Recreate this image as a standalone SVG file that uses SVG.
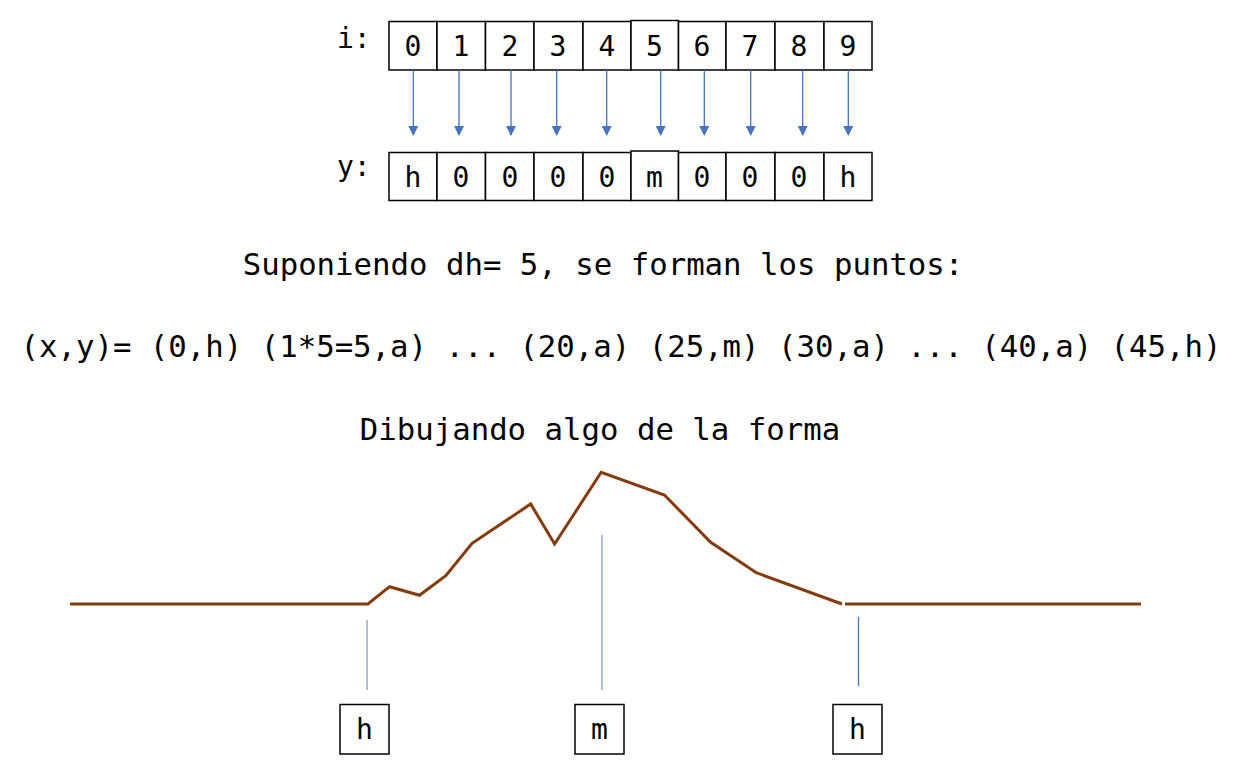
<svg xmlns="http://www.w3.org/2000/svg" width="1237" height="773" viewBox="0 0 1237 773">
<style>
.cell{fill:#fff;stroke:#000;stroke-width:1.5}
.ct{font-family:"DejaVu Sans Mono",monospace;font-size:28px;fill:#000;text-anchor:middle}
.lbl{font-family:"DejaVu Sans Mono",monospace;font-size:28px;fill:#000}
.big{font-family:"DejaVu Sans Mono",monospace;font-size:30.7px;fill:#000;text-anchor:middle}
.arr{stroke:#4472C4;stroke-width:1.3;fill:none}
.tick{stroke:#7F93B8;stroke-width:1.2;fill:none}
.mtn{stroke:#843C0C;stroke-width:3;fill:none;stroke-linejoin:miter}
</style>
<defs>
<marker id="ah" markerWidth="10" markerHeight="10" refX="9" refY="5" orient="auto" markerUnits="userSpaceOnUse">
<path d="M0,0 L10,5 L0,10 Z" fill="#4472C4"/>
</marker>
</defs>
<g id="label-i"><text class="lbl" x="337" y="48">i:</text></g>
<g id="label-y"><text class="lbl" x="337" y="176">y:</text></g>
<g id="row-i">
<rect class="cell" x="389" y="21.5" width="48" height="48.5"/><text class="ct" x="413" y="56">0</text>
<rect class="cell" x="437" y="21.5" width="48.5" height="48.5"/><text class="ct" x="461" y="56">1</text>
<rect class="cell" x="485.5" y="21.5" width="48.5" height="48.5"/><text class="ct" x="510" y="56">2</text>
<rect class="cell" x="534" y="21.5" width="49" height="48.5"/><text class="ct" x="558" y="56">3</text>
<rect class="cell" x="583" y="21.5" width="48" height="48.5"/><text class="ct" x="607" y="56">4</text>
<rect class="cell" x="631" y="20.5" width="47.5" height="49.5"/><text class="ct" x="654.5" y="56">5</text>
<rect class="cell" x="678.5" y="21.5" width="47.5" height="48.5"/><text class="ct" x="702" y="56">6</text>
<rect class="cell" x="726" y="21.5" width="49" height="48.5"/><text class="ct" x="750" y="56">7</text>
<rect class="cell" x="775" y="21.5" width="49" height="48.5"/><text class="ct" x="799" y="56">8</text>
<rect class="cell" x="824" y="21.5" width="48" height="48.5"/><text class="ct" x="848" y="56">9</text>
</g>
<g id="row-y">
<rect class="cell" x="389" y="152.5" width="48" height="48"/><text class="ct" x="413" y="187">h</text>
<rect class="cell" x="437" y="152.5" width="48.5" height="48"/><text class="ct" x="461" y="187">0</text>
<rect class="cell" x="485.5" y="152.5" width="48.5" height="48"/><text class="ct" x="510" y="187">0</text>
<rect class="cell" x="534" y="152.5" width="49" height="48"/><text class="ct" x="558" y="187">0</text>
<rect class="cell" x="583" y="152.5" width="48" height="48"/><text class="ct" x="607" y="187">0</text>
<rect class="cell" x="631" y="151" width="47.5" height="49.5"/><text class="ct" x="654.5" y="187">m</text>
<rect class="cell" x="678.5" y="152.5" width="47.5" height="48"/><text class="ct" x="702" y="187">0</text>
<rect class="cell" x="726" y="152.5" width="49" height="48"/><text class="ct" x="750" y="187">0</text>
<rect class="cell" x="775" y="152.5" width="49" height="48"/><text class="ct" x="799" y="187">0</text>
<rect class="cell" x="824" y="152.5" width="48" height="48"/><text class="ct" x="848" y="187">h</text>
</g>
<g id="connectors">
<line class="arr" x1="413.3" y1="70" x2="413.3" y2="135" marker-end="url(#ah)"/>
<line class="arr" x1="459" y1="70" x2="459" y2="135" marker-end="url(#ah)"/>
<line class="arr" x1="511" y1="70" x2="511" y2="135" marker-end="url(#ah)"/>
<line class="arr" x1="556.7" y1="70" x2="556.7" y2="135" marker-end="url(#ah)"/>
<line class="arr" x1="606.7" y1="70" x2="606.7" y2="135" marker-end="url(#ah)"/>
<line class="arr" x1="660.7" y1="70" x2="660.7" y2="135" marker-end="url(#ah)"/>
<line class="arr" x1="704.3" y1="70" x2="704.3" y2="135" marker-end="url(#ah)"/>
<line class="arr" x1="750.7" y1="70" x2="750.7" y2="135" marker-end="url(#ah)"/>
<line class="arr" x1="802.7" y1="70" x2="802.7" y2="135" marker-end="url(#ah)"/>
<line class="arr" x1="848.3" y1="70" x2="848.3" y2="135" marker-end="url(#ah)"/>
<line class="tick" x1="367" y1="620" x2="367" y2="690"/>
<line class="tick" x1="602" y1="535" x2="602" y2="690"/>
<line class="arr" x1="858.5" y1="617" x2="858.5" y2="686"/>
</g>
<g id="texts">
<text class="big" x="603" y="275">Suponiendo dh= 5, se forman los puntos:</text>
<text class="big" x="621" y="357">(x,y)= (0,h) (1*5=5,a) ... (20,a) (25,m) (30,a) ... (40,a) (45,h)</text>
<text class="big" x="600" y="440">Dibujando algo de la forma</text>
</g>
<g id="mountain">
<polyline class="mtn" points="70,604 367.9,604 389.6,586.7 419.5,595.3 445.8,575.7 472.1,543.3 530.7,504 554.6,544 601.2,472.3 664.4,495 710.7,542.3 756.3,572.7 842,604"/>
<line class="mtn" x1="845" y1="604" x2="1141" y2="604"/>
</g>
<g id="box-h-left"><rect class="cell" x="340" y="704.5" width="49" height="49.5"/><text class="ct" x="364.5" y="739">h</text></g>
<g id="box-m"><rect class="cell" x="575" y="704.5" width="49" height="49.5"/><text class="ct" x="599.5" y="739">m</text></g>
<g id="box-h-right"><rect class="cell" x="833" y="704.5" width="49" height="49.5"/><text class="ct" x="857.5" y="739">h</text></g>
</svg>
